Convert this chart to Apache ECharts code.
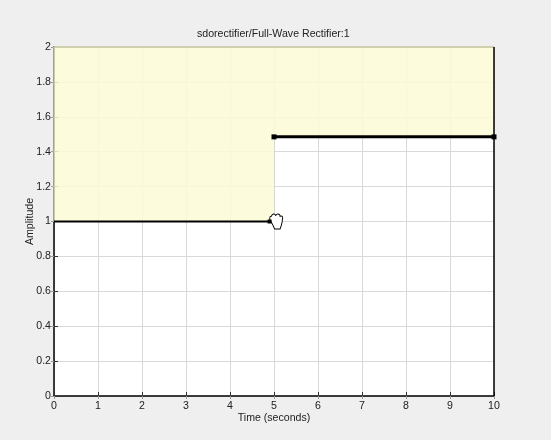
<!DOCTYPE html>
<html><head><meta charset="utf-8">
<script src="https://cdn.jsdelivr.net/npm/echarts@6/dist/echarts.min.js"></script>
<style>html,body{margin:0;padding:0;background:#efefef}#c{width:551px;height:440px}</style></head>
<body><div id="c"></div>
<script>
const titleText = 'sdorectifier/Full-Wave Rectifier:1';
const xLabel = 'Time (seconds)';
const yLabel = 'Amplitude';
const firstSegment = [[0, 1], [4.9, 1]];
const secondSegment = [[5, 1.485], [10, 1.485]];
const cursorPoint = [5.05, 1];
const handPath = 'path://M2 9 C0 6 0 3 2 3 C3 0 5 0 6 2 C7 0 10 0 10 3 C12 2 13 4 12 7 C12 10 11 13 10 16 L5 16 C4 13 3 11 2 9 Z';
const font = 'Liberation Sans, Arial, sans-serif';
const textColor = '#222';
const olive = '#c4c4a0';
const chart = echarts.init(document.getElementById('c'), null, {renderer: 'canvas'});
const ghostAxis = {min: 0, type: 'value', axisLabel: {show: false}, axisLine: {show: false}, splitLine: {show: false},
  axisTick: {show: true, inside: true, length: 3, lineStyle: {color: '#999'}}};
chart.setOption({
  animation: false,
  backgroundColor: '#efefef',
  title: {text: titleText, left: 192, top: 24,
    textStyle: {fontFamily: font, fontSize: 10.6, fontWeight: 'normal', color: textColor}},
  grid: {left: 54, top: 47, width: 440, height: 349, backgroundColor: '#ffffff', show: true, borderWidth: 0},
  xAxis: [{type: 'value', min: 0, max: 10, interval: 1, name: xLabel, nameLocation: 'middle', nameGap: 17, nameMoveOverlap: false,
    nameTextStyle: {fontFamily: font, fontSize: 10.6, color: textColor},
    axisLine: {show: true, onZero: false, lineStyle: {color: '#000', width: 1.5}},
    axisTick: {show: true, inside: true, length: 4, lineStyle: {color: '#333'}},
    axisLabel: {fontFamily: font, fontSize: 10.6, color: textColor, margin: 5, hideOverlap: false},
    splitLine: {show: true, lineStyle: {color: '#d9d9d9', width: 1}}},
    Object.assign({}, ghostAxis, {position: 'top', max: 10, interval: 1})],
  yAxis: [{type: 'value', min: 0, max: 2, interval: 0.2, name: yLabel, nameLocation: 'middle', nameGap: 18, nameMoveOverlap: false,
    nameTextStyle: {fontFamily: font, fontSize: 10.6, color: textColor},
    axisLine: {show: true, onZero: false, lineStyle: {color: '#000', width: 1.5}},
    axisTick: {show: true, inside: true, length: 4, lineStyle: {color: '#333'}},
    axisLabel: {fontFamily: font, fontSize: 10.6, color: textColor, margin: 3, hideOverlap: false},
    splitLine: {show: true, lineStyle: {color: '#d9d9d9', width: 1}}},
    Object.assign({}, ghostAxis, {position: 'right', max: 2, interval: 0.2})],
  series: [
    {type: 'line', data: firstSegment, symbol: v => v[0] === 0 ? 'none' : 'rect', symbolSize: 4, showAllSymbol: true,
      silent: true, z: 5, itemStyle: {color: '#000'}, lineStyle: {color: '#000', width: 2},
      markArea: {silent: true, itemStyle: {color: 'rgba(251,251,215,0.85)', borderWidth: 0},
        data: [
          [{xAxis: 0, yAxis: 2}, {xAxis: 5, yAxis: 1}],
          [{xAxis: 5, yAxis: 2}, {xAxis: 10, yAxis: 1.485}]
        ]},
      markLine: {silent: true, symbol: 'none', label: {show: false}, animation: false,
        data: [
          [{coord: [0, 2], lineStyle: {color: olive, width: 1.5, type: 'solid'}}, {coord: [10, 2]}],
          [{coord: [0, 1], lineStyle: {color: olive, width: 1.5, type: 'solid'}}, {coord: [0, 2]}],
          [{coord: [10, 0], lineStyle: {color: '#000', width: 1.5, type: 'solid'}}, {coord: [10, 2]}],
          [{coord: [5, 1], lineStyle: {color: '#d6d6d6', width: 1, type: 'solid'}}, {coord: [5, 1.485]}]
        ]},
      markPoint: {silent: true, symbol: handPath, symbolSize: [13, 15],
        itemStyle: {color: '#fff', borderColor: '#000', borderWidth: 1}, label: {show: false},
        data: [{coord: cursorPoint}]}},
    {type: 'line', data: secondSegment, symbol: 'rect', symbolSize: 5, showSymbol: true, silent: true, z: 5,
      itemStyle: {color: '#000'}, lineStyle: {color: '#000', width: 3}}
  ]
});
</script></body></html>
